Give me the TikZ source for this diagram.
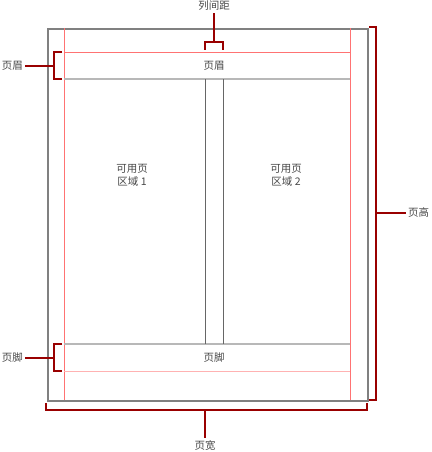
\documentclass[tikz,border=0pt]{standalone}
\usepackage{fontspec}
\newfontfamily\cjk{Noto Sans CJK SC}
\begin{document}
\begin{tikzpicture}[x=1pt,y=-1pt,
  lbl/.style={font=\cjk\fontsize{10.5}{13}\selectfont,text=black!72,inner sep=0pt,align=center},
  brk/.style={draw=red!60!black,line width=1.7pt},
  pagebox/.style={draw=black!50,line width=1.7pt},
  marg/.style={draw=red!55,line width=0.7pt},
  hline/.style={draw=black!28,line width=1.2pt},
  colline/.style={draw=black!60,line width=0.7pt}]
\useasboundingbox (0,0) rectangle (431,452);
% page
\node[pagebox,minimum width=320pt,minimum height=372pt,inner sep=0pt,anchor=north west] (page) at (47,28) {};
% margins
\coordinate (ml) at (64,28); \coordinate (mlb) at (64,400);
\coordinate (mr) at (350,28); \coordinate (mrb) at (350,400);
\draw[marg] (ml) -- (mlb);
\draw[marg] (mr) -- (mrb);
\coordinate (h1l) at (64,52); \coordinate (h1r) at (350,52);
\draw[marg] (h1l) -- (h1r);
\coordinate (h2l) at (64,79); \coordinate (h2r) at (350,79);
\draw[hline] (h2l) -- (h2r);
\coordinate (f1l) at (64,344); \coordinate (f1r) at (350,344);
\draw[hline] (f1l) -- (f1r);
\coordinate (f2l) at (64,371); \coordinate (f2r) at (350,371);
\draw[draw=red!30,line width=0.7pt] (f2l) -- (f2r);
% column gap
\coordinate (c1t) at (205,79); \coordinate (c1b) at (205,344);
\coordinate (c2t) at (223,79); \coordinate (c2b) at (223,344);
\draw[colline] (c1t) -- (c1b);
\draw[colline] (c2t) -- (c2b);
% texts
\node[lbl] (hdr) at (214,66) {页眉};
\node[lbl] (ftr) at (214,358) {页脚};
\node[lbl] (a1) at (132,175) {可用页\\区域 1};
\node[lbl] (a2) at (286,175) {可用页\\区域 2};
% labels
\node[lbl,anchor=east] (lh) at (23,66) {页眉};
\node[lbl,anchor=east] (lf) at (23,358) {页脚};
\node[lbl] (lg) at (214,6) {列间距};
\node[lbl,anchor=west] (lht) at (408,213) {页高};
\node[lbl] (lw) at (205,446) {页宽};
% brackets
\draw[brk] (62,52) -- (54,52) -- (54,79) -- (62,79);
\coordinate (hb) at (54,66);
\draw[brk] (lh.east) ++(2,0) -- (hb);
\draw[brk] (62,344) -- (54,344) -- (54,371) -- (62,371);
\coordinate (fb) at (54,358);
\draw[brk] (lf.east) ++(2,0) -- (fb);
\draw[brk] (205,50) -- (205,42) -- (223,42) -- (223,50);
\coordinate (gb) at (214,42);
\draw[brk] (gb) -- (214,13);
\draw[brk] (369,27) -- (376,27) -- (376,400) -- (369,400);
\coordinate (pb) at (376,213);
\draw[brk] (pb) -- (406,213);
\draw[brk] (46,403) -- (46,410) -- (367,410) -- (367,403);
\coordinate (wb) at (205,410);
\draw[brk] (wb) -- (205,438);
\end{tikzpicture}
\end{document}
